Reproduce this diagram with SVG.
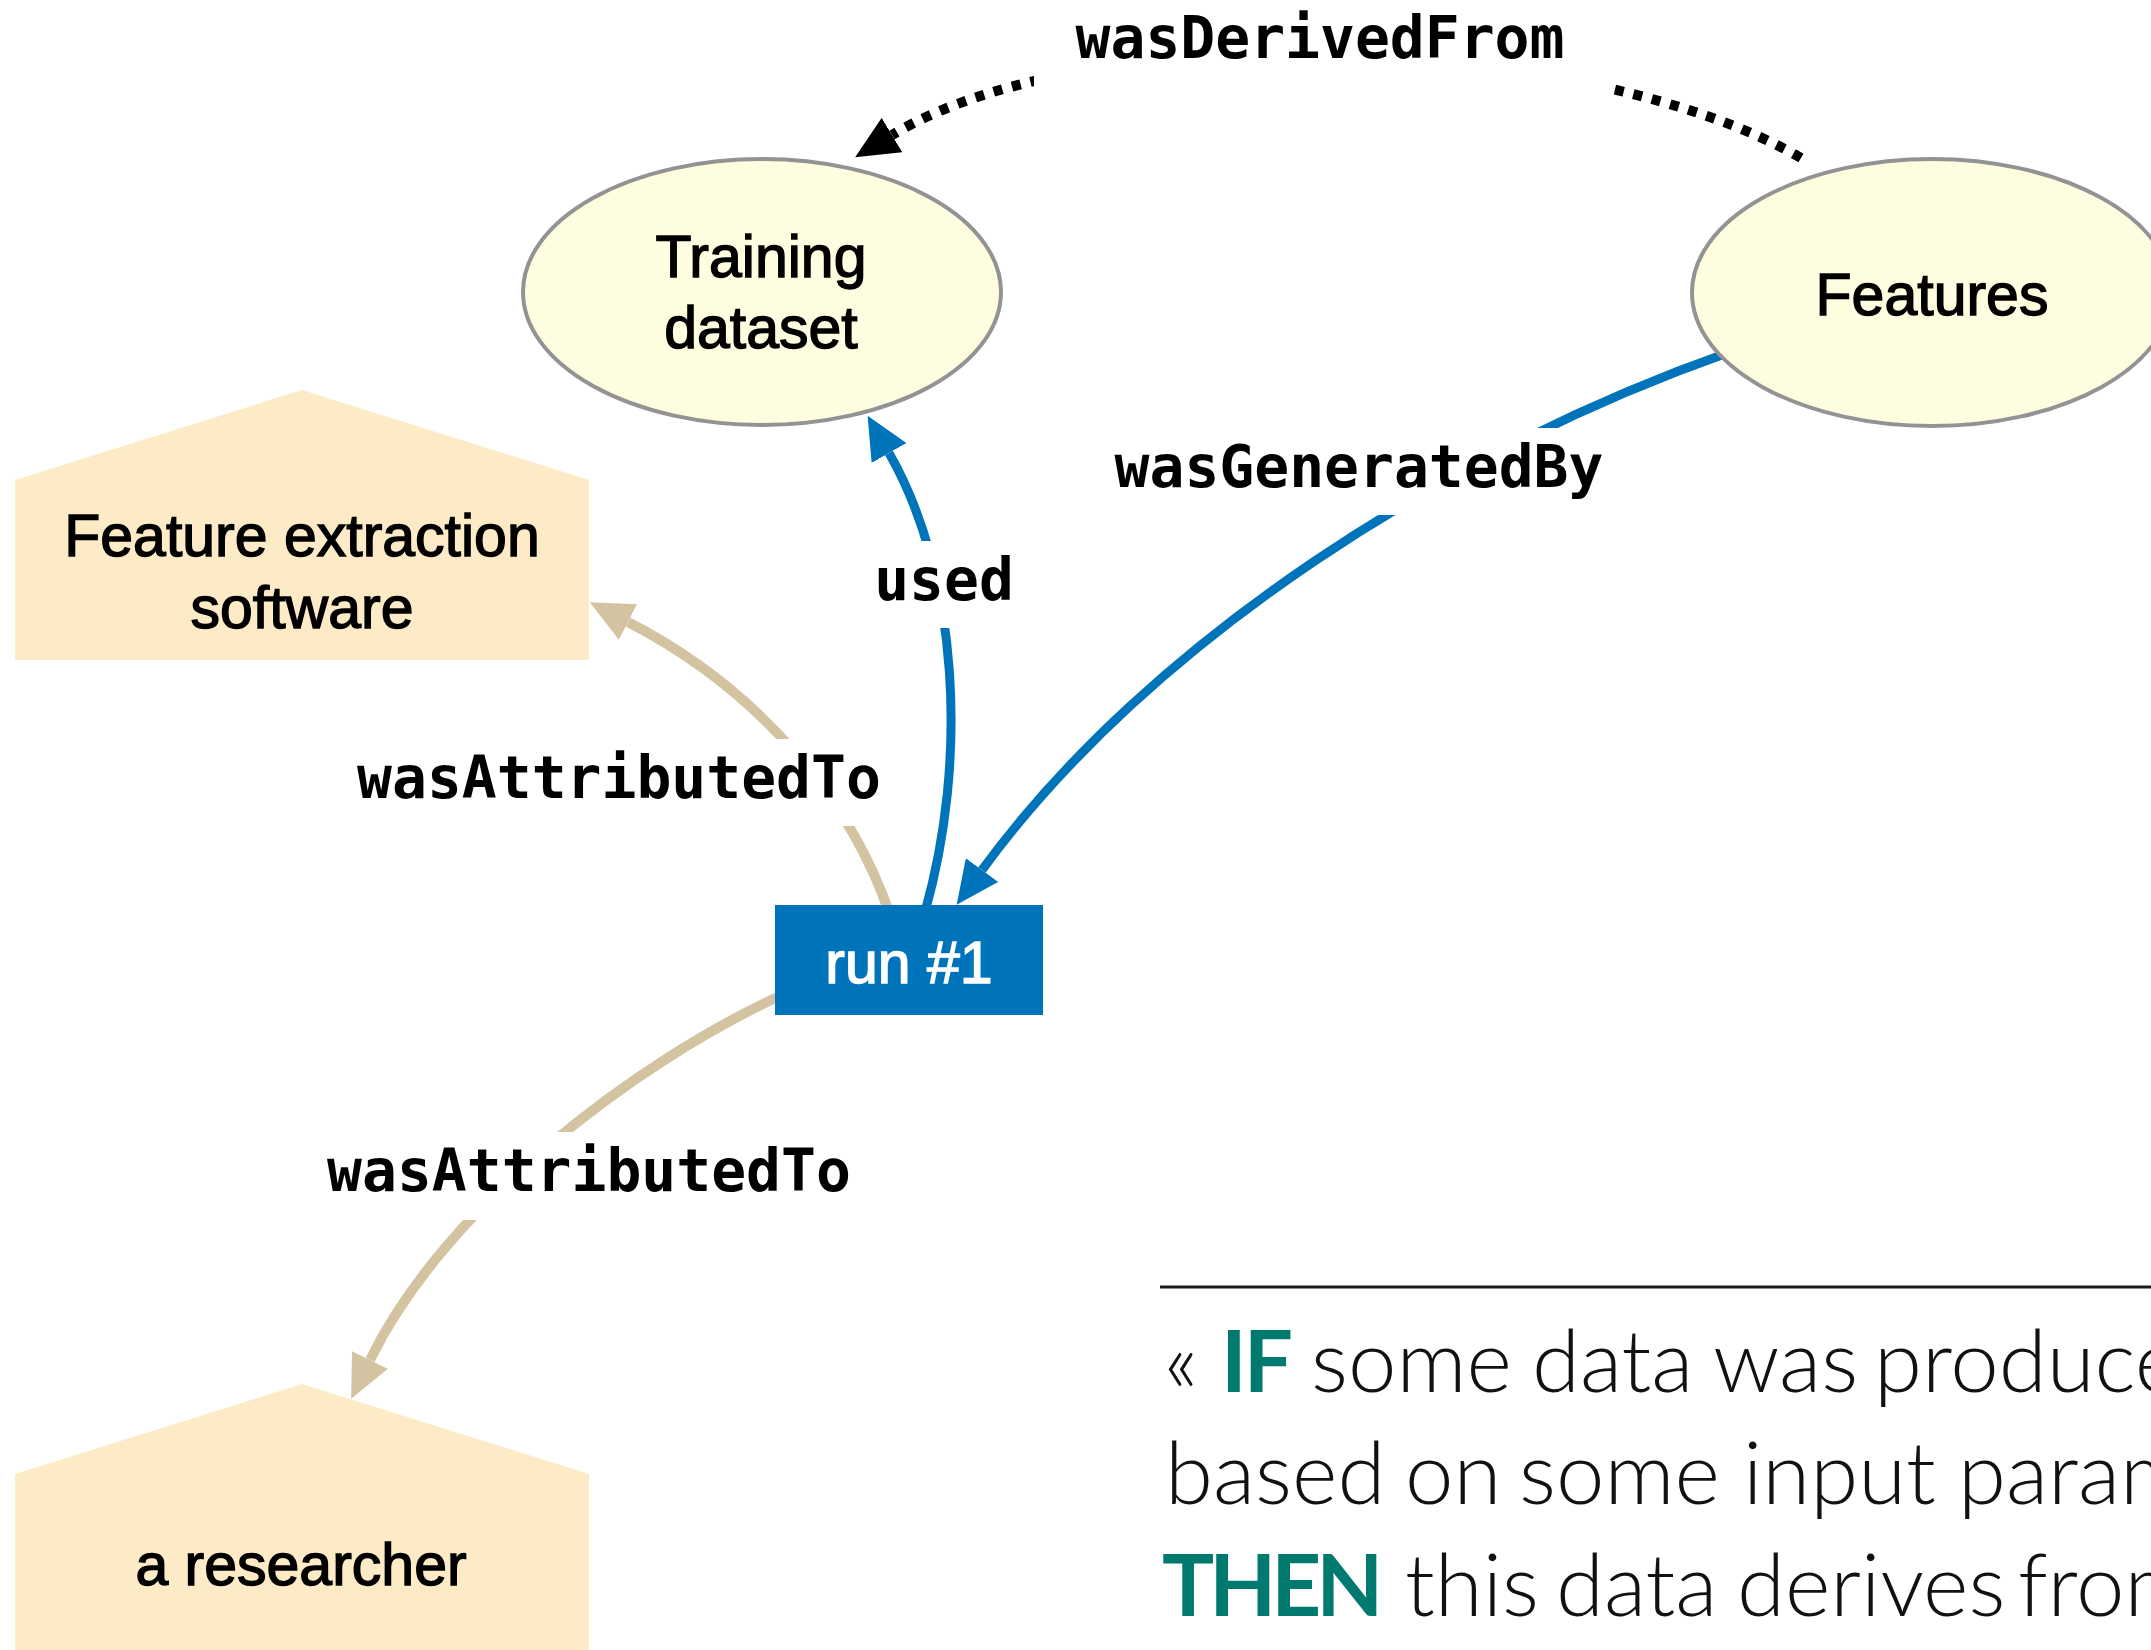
<svg xmlns="http://www.w3.org/2000/svg" width="2151" height="1650" viewBox="0 0 2151 1650">
  <style>
    .ent { fill: #FFFDE0; stroke: #939393; stroke-width: 4; }
    .agent { fill: #FDEAC6; stroke: none; }
    .act { fill: #0074BA; stroke: none; }
    .ntext { font-family: "Liberation Sans", Arial, sans-serif; font-size: 59px; fill: #000; stroke: #000; stroke-width: 1.4; text-anchor: middle; }
    .wtext { fill: #fff; stroke: #fff; }
    .lbl { font-family: "DejaVu Sans Mono", "Liberation Mono", monospace; font-weight: bold; font-size: 58px; fill: #000; text-anchor: middle; }
    .lblbg { fill: #fff; stroke: none; }
    .blue { fill: none; stroke: #0074BA; stroke-width: 9; }
    .tan { fill: none; stroke: #D3C3A1; stroke-width: 10; }
    .dot { fill: none; stroke: #000; stroke-width: 10; stroke-dasharray: 9 10; }
    .quote { font-family: "Source Sans Pro", "Lato", "Open Sans", sans-serif; font-weight: 300; font-size: 87px; fill: #111; }
    .kw { font-weight: 700; fill: #007A6E; }
  </style>
  <defs>
    <marker id="ahBlack" markerUnits="userSpaceOnUse" markerWidth="43" markerHeight="40" refX="0" refY="20" orient="auto" viewBox="0 0 43 40">
      <path d="M0,0 L43,20 L0,40 z" fill="#000"/>
    </marker>
    <marker id="ahBlue" markerUnits="userSpaceOnUse" markerWidth="43" markerHeight="40" refX="0" refY="20" orient="auto" viewBox="0 0 43 40">
      <path d="M0,0 L43,20 L0,40 z" fill="#0074BA"/>
    </marker>
    <marker id="ahTan" markerUnits="userSpaceOnUse" markerWidth="43" markerHeight="40" refX="0" refY="20" orient="auto" viewBox="0 0 43 40">
      <path d="M0,0 L43,20 L0,40 z" fill="#D3C3A1"/>
    </marker>
  </defs>
  <rect x="0" y="0" width="2151" height="1650" fill="#fff"/>

  <g id="connectors">
    <path id="e-derived" class="dot" d="M1801,158 C1600,40 1100,10 892,135" marker-end="url(#ahBlack)"/>
    <path id="e-generated" class="blue" d="M1730,352 C1450,450 1150,640 982,870" marker-end="url(#ahBlue)"/>
    <path id="e-used" class="blue" d="M925,912 C968,760 959,575 889,453" marker-end="url(#ahBlue)"/>
    <path id="e-attr-soft" class="tan" d="M889,912 C850,800 760,690 628,622" marker-end="url(#ahTan)"/>
    <path id="e-attr-res" class="tan" d="M780,996 C640,1060 446,1204 370,1360" marker-end="url(#ahTan)"/>
  </g>

  <g id="labels">
    <g id="lbl-derived">
      <rect class="lblbg" x="1034" y="-1" width="578" height="96"/>
      <text class="lbl" x="1320" y="58">wasDerivedFrom</text>
    </g>
    <g id="lbl-generated">
      <rect class="lblbg" x="1074" y="428" width="571" height="87"/>
      <text class="lbl" x="1359" y="487">wasGeneratedBy</text>
    </g>
    <g id="lbl-used">
      <rect class="lblbg" x="845" y="541" width="199" height="87"/>
      <text class="lbl" x="944" y="600">used</text>
    </g>
    <g id="lbl-attr-soft">
      <rect class="lblbg" x="337" y="739" width="565" height="87"/>
      <text class="lbl" x="619" y="798">wasAttributedTo</text>
    </g>
    <g id="lbl-attr-res">
      <rect class="lblbg" x="306" y="1132" width="567" height="88"/>
      <text class="lbl" x="589" y="1191">wasAttributedTo</text>
    </g>
  </g>

  <g id="node-training">
    <ellipse class="ent" cx="762" cy="292" rx="239" ry="133"/>
    <text class="ntext" x="761" y="277">Training</text>
    <text class="ntext" x="761" y="348">dataset</text>
  </g>

  <g id="node-features">
    <ellipse class="ent" cx="1932" cy="292.5" rx="240" ry="133.5"/>
    <text class="ntext" x="1932" y="315">Features</text>
  </g>

  <g id="node-software">
    <polygon class="agent" points="302,390 589,480 589,660 15,660 15,480"/>
    <text class="ntext" x="302" y="556">Feature extraction</text>
    <text class="ntext" x="302" y="628">software</text>
  </g>

  <g id="node-run">
    <rect class="act" x="775" y="905" width="268" height="110"/>
    <text class="ntext wtext" x="909" y="983">run #1</text>
  </g>

  <g id="node-researcher">
    <polygon class="agent" points="302,1384 589,1474 589,1660 15,1660 15,1474"/>
    <text class="ntext" x="301" y="1585">a researcher</text>
  </g>

  <g id="quote">
    <line x1="1160" y1="1287" x2="2151" y2="1287" stroke="#1a1a1a" stroke-width="3"/>
    <text class="quote" y="1392"><tspan x="1164">«</tspan><tspan class="kw" x="1221" letter-spacing="-3">IF</tspan><tspan x="1311">some</tspan><tspan x="1532">data</tspan><tspan x="1713">was</tspan><tspan x="1874">produce</tspan></text>
    <text class="quote" y="1504"><tspan x="1165">based</tspan><tspan x="1405">on</tspan><tspan x="1519">some</tspan><tspan x="1743">input</tspan><tspan x="1958">param</tspan></text>
    <text class="quote" y="1616"><tspan class="kw" x="1162" letter-spacing="-5">THEN</tspan><tspan x="1405">this</tspan><tspan x="1556">data</tspan><tspan x="1737">derives</tspan><tspan x="2018">from</tspan></text>
  </g>
</svg>
